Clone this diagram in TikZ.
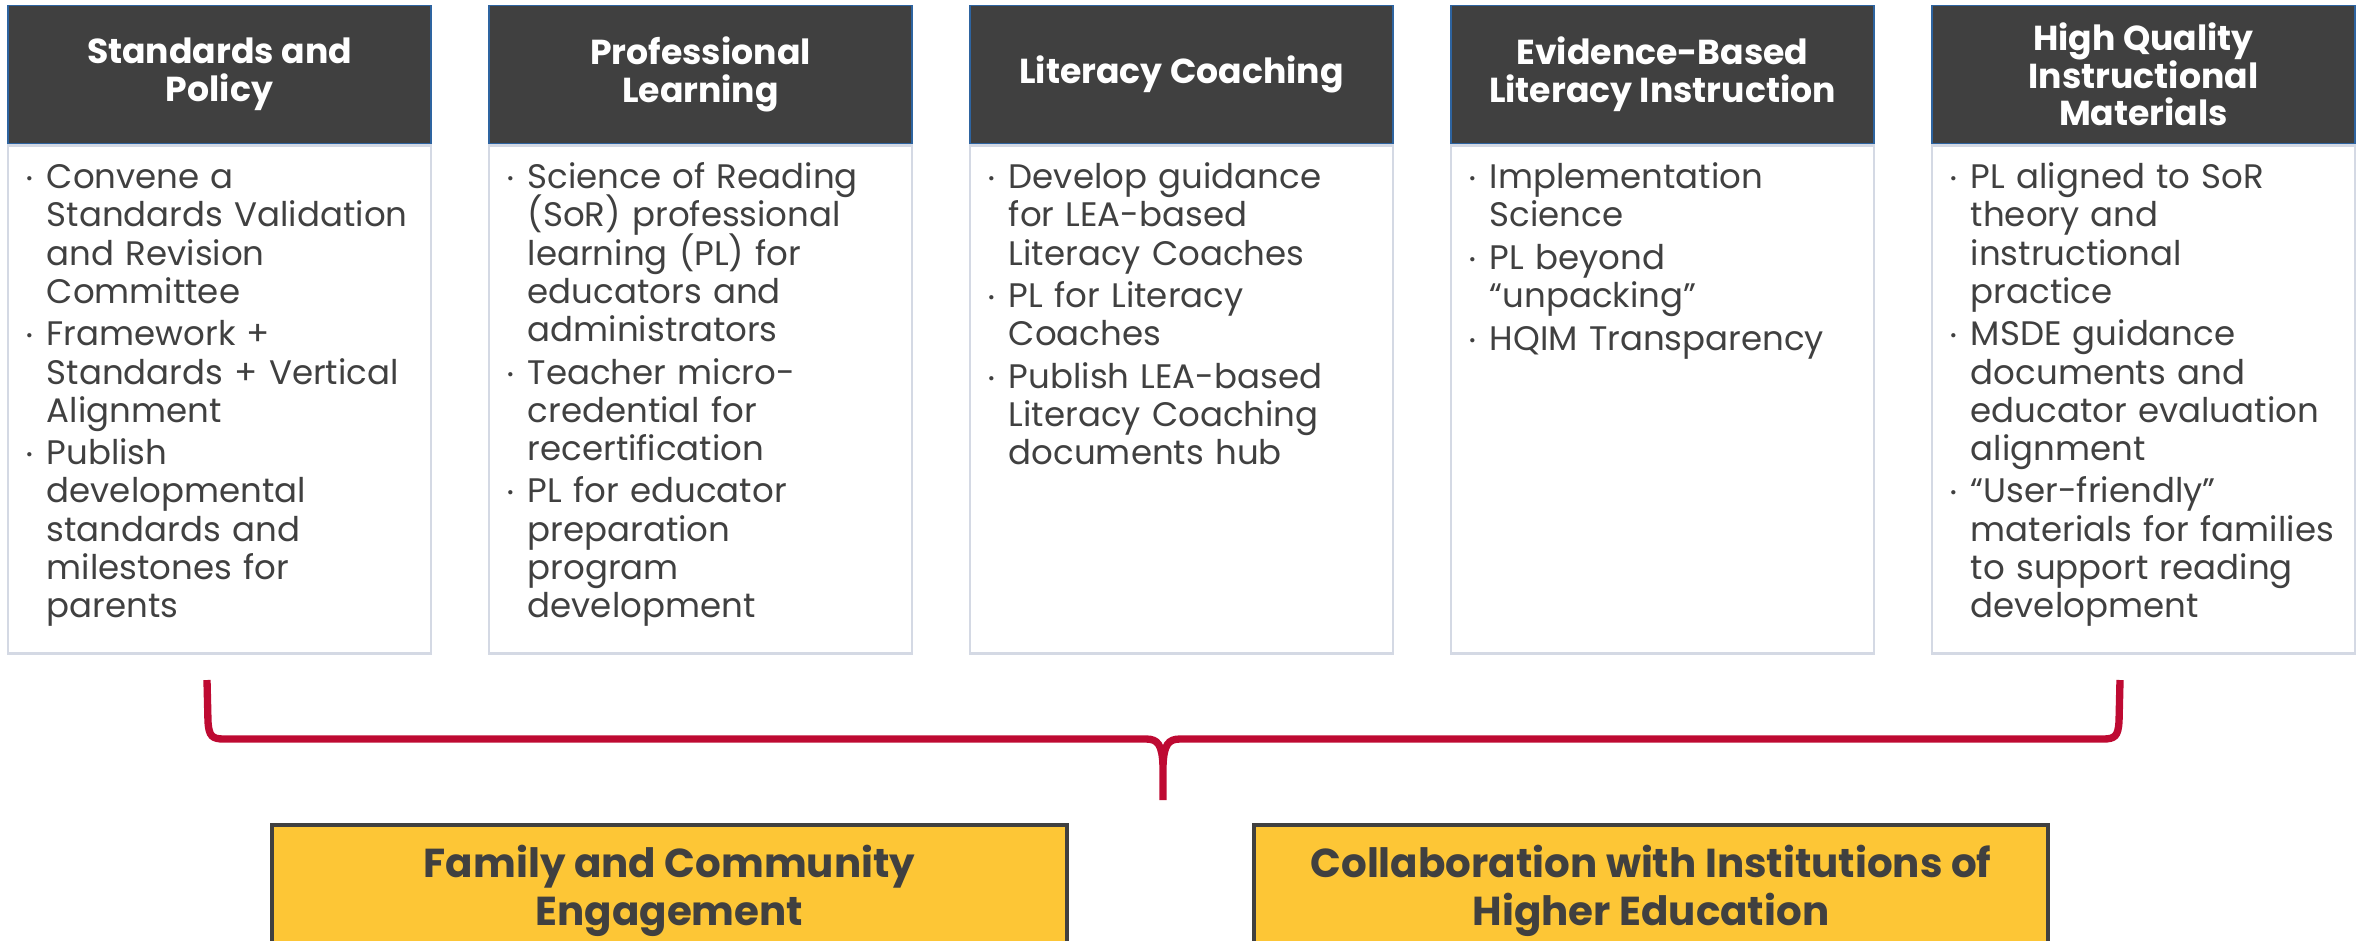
\documentclass[tikz,border=0pt]{standalone}
\usepackage{fontspec}
\setmainfont{Poppins}
\usetikzlibrary{positioning}

\definecolor{hdrgray}{RGB}{64,64,64}
\definecolor{hdrblue}{RGB}{46,100,160}
\definecolor{boxline}{RGB}{212,217,228}
\definecolor{txtgray}{RGB}{64,64,64}
\definecolor{bracered}{RGB}{190,10,50}
\definecolor{goldfill}{RGB}{253,198,54}

\newcommand{\bdot}{\makebox[15.75pt][l]{\raisebox{3pt}{\fontsize{13}{13}\selectfont •}}}
\newcommand{\bitem}{\par\noindent\hangindent=15.75pt\hangafter=1\bdot}

\tikzset{every picture/.style={line width=0.75pt}}
\tikzset{
  hdr/.style={draw=hdrblue, line width=1.2pt, fill=hdrgray, text=white, align=center,
    minimum width=317.25pt, minimum height=103.5pt, inner sep=0pt,
    font=\fontsize{26}{28.3}\selectfont\bfseries},
  bodybox/.style={draw=boxline, line width=2pt, fill=white,
    minimum width=317.25pt, minimum height=381pt, inner sep=0pt},
  bodytxt/.style={anchor=north west, inner sep=0pt, text width=300pt, align=left, text=txtgray,
    font=\fontsize{25.5}{28.6}\selectfont\setlength{\parskip}{3.4pt}\setlength{\lineskiplimit}{-20pt}},
  goldbox/.style={draw=hdrgray, line width=3pt, fill=goldfill,
    minimum width=596pt, minimum height=112.5pt, inner sep=0pt},
  goldtxt/.style={inner sep=0pt, align=center, text=txtgray,
    font=\fontsize{30.3}{36}\selectfont\bfseries},
}

\begin{document}
\begin{tikzpicture}[x=0.75pt,y=0.75pt,yscale=-1,xscale=1]
\clip (0,0) rectangle (2366,940);

%Shape: Rectangle - headers
\node[hdr] (h1) at (219.5,74.5) {Standards and\\Policy};
\node[hdr] (h2) at (700.5,74.5) {Professional\\Learning};
\node[hdr] (h3) at (1181.5,74.5) {Literacy Coaching};
\node[hdr] (h4) at (1662.5,74.5) {Evidence-Based\\Literacy Instruction};
\node[hdr] (h5) at (2143.5,74.5) {High Quality\\Instructional\\Materials};

%Shape: Rectangle - bodies
\node[bodybox, below=0pt of h1] (b1) {};
\node[bodybox, below=0pt of h2] (b2) {};
\node[bodybox, below=0pt of h3] (b3) {};
\node[bodybox, below=0pt of h4] (b4) {};
\node[bodybox, below=0pt of h5] (b5) {};

% Text Node
\node[bodytxt] (t1) at ([xshift=14pt,yshift=1pt]b1.north west)
  {\bitem Convene a\newline Standards Validation\newline and Revision\newline Committee
   \bitem Framework +\newline Standards + Vertical\newline Alignment
   \bitem Publish\newline developmental\newline standards and\newline milestones for\newline parents\par};
% Text Node
\node[bodytxt] (t2) at ([xshift=14pt,yshift=1pt]b2.north west)
  {\bitem Science of Reading\newline (SoR) professional\newline learning (PL) for\newline educators and\newline administrators
   \bitem Teacher micro-\newline credential for\newline recertification
   \bitem PL for educator\newline preparation\newline program\newline development\par};
% Text Node
\node[bodytxt] (t3) at ([xshift=14pt,yshift=1pt]b3.north west)
  {\bitem Develop guidance\newline for LEA-based\newline Literacy Coaches
   \bitem PL for Literacy\newline Coaches
   \bitem Publish LEA-based\newline Literacy Coaching\newline documents hub\par};
% Text Node
\node[bodytxt] (t4) at ([xshift=14pt,yshift=1pt]b4.north west)
  {\bitem Implementation\newline Science
   \bitem PL beyond\newline “unpacking”
   \bitem HQIM Transparency\par};
% Text Node
\node[bodytxt] (t5) at ([xshift=14pt,yshift=1pt]b5.north west)
  {\bitem PL aligned to SoR\newline theory and\newline instructional\newline practice
   \bitem MSDE guidance\newline documents and\newline educator evaluation\newline alignment
   \bitem “User-friendly”\newline materials for families\newline to support reading\newline development\par};

%Curve Lines - brace
\coordinate (bl) at (207,680);
\coordinate (bm) at (1163,800);
\coordinate (br) at (2120,680);
\draw[bracered, line width=5.5pt]
  (bl) -- (208,722) .. controls (209,736) and (212,739) .. (224,739) -- (1146,739)
  .. controls (1158,739) and (1162,745) .. (1163,765) -- (bm);
\draw[bracered, line width=5.5pt]
  (1163,765) .. controls (1164,745) and (1168,739) .. (1180,739) -- (2103,739)
  .. controls (2115,739) and (2118,736) .. (2119,722) -- (br);

%Shape: Rectangle - bottom boxes
\node[goldbox] (g1) at (669.5,900) {};
\node[goldbox] (g2) at (1651,900) {};
% Text Node
\node[goldtxt, below=16pt of g1.north] (g1t) {Family and Community\\Engagement};
% Text Node
\node[goldtxt, below=16pt of g2.north] (g2t) {Collaboration with Institutions of\\Higher Education};

\end{tikzpicture}
\end{document}
